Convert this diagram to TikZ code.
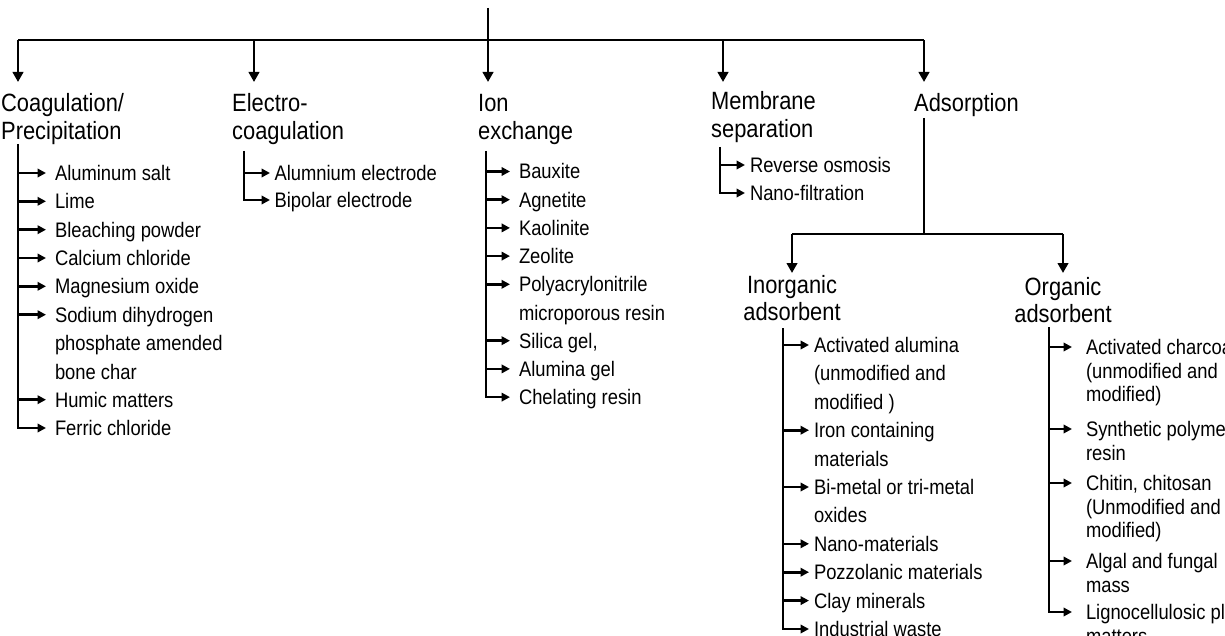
\documentclass[tikz,border=0pt]{standalone}
\usepackage{fontspec}
\setmainfont{Liberation Sans}[FakeStretch=0.875]
\usetikzlibrary{arrows.meta}
\newcommand\hfnt{\fontsize{25pt}{27.5pt}\selectfont}
\newcommand\ifnt{\fontsize{21pt}{28.4pt}\selectfont}
\newcommand\ofnt{\fontsize{21pt}{23.5pt}\selectfont}
\newcommand\mlines[1]{\begin{tabular}[t]{@{}l@{}}#1\end{tabular}}
\newcommand\mcent[1]{\begin{tabular}[t]{@{}c@{}}#1\end{tabular}}
\begin{document}
\begin{tikzpicture}[x=1pt,y=-1pt,
  ln/.style={line width=2.6pt},
  big/.style={ln,-{Triangle[length=10pt,width=10.5pt]}},
  sm/.style={ln,-{Triangle[length=8.5pt,width=8.5pt]}},
  head/.style={font=\hfnt,inner sep=0pt,anchor=base west},
  subhead/.style={font=\hfnt,inner sep=0pt,anchor=base},
  item/.style={font=\ifnt,inner sep=0pt,text height=15pt,text depth=0pt,anchor=west},
  oitem/.style={item,font=\ofnt}]
\useasboundingbox (0,0) rectangle (1225,636);
\clip (0,0) rectangle (1225,636);

% ---------- main bar ----------
\coordinate (root) at (488,8);
\coordinate (barL) at (18,40);
\coordinate (barR) at (924,40);
\draw[ln] (root) -- (root |- barL);
\draw[ln] (barL) -- (barR);

% drop tips
\coordinate (dC) at (18,82);
\coordinate (dE) at (254,82);
\coordinate (dI) at (488,82);
\coordinate (dM) at (723,82);
\coordinate (dA) at (924,82);
\foreach \d in {dC,dE,dI,dM,dA} \draw[big] (\d |- barL) -- (\d);

% ---------- headings ----------
\node[head] (coag) at (1,112) {\mlines{Coagulation/\\Precipitation}};
\node[head] (elec) at (232,112) {\mlines{Electro-\\coagulation}};
\node[head] (ion)  at (478,112) {\mlines{Ion\\exchange}};
\node[head] (mem)  at (711,110) {\mlines{Membrane\\separation}};
\node[head] (ads)  at (914,112) {Adsorption};

% ---------- Coagulation list ----------
\coordinate (cb) at (18,144);
\begin{scope}[every node/.append style={outer xsep=9pt}]
\node[item] (c1) at (46,173)   {Aluminum salt};
\node[item] (c2) at (46,201.3) {Lime};
\node[item] (c3) at (46,229.7) {Bleaching powder};
\node[item] (c4) at (46,258)   {Calcium chloride};
\node[item] (c5) at (46,286.3) {Magnesium oxide};
\node[item] (c6) at (46,314.7) {\mlines{Sodium dihydrogen\\phosphate amended\\bone char}};
\node[item] (c7) at (46,399.7) {Humic matters};
\node[item] (c8) at (46,428)   {Ferric chloride};
\end{scope}
\foreach \n in {c1,c2,c3,c4,c5,c6,c7} \draw[sm] (cb |- \n.west) -- (\n.west);
\draw[sm] (cb) |- (c8.west);

% ---------- Electro-coagulation list ----------
\coordinate (eb) at (244,151);
\begin{scope}[every node/.append style={outer xsep=4.5pt}]
\node[item] (e1) at (270,173) {Alumnium electrode};
\node[item] (e2) at (270,200) {Bipolar electrode};
\end{scope}
\draw[sm] (eb |- e1.west) -- (e1.west);
\draw[sm] (eb) |- (e2.west);

% ---------- Ion exchange list ----------
\coordinate (ib) at (486,151);
\begin{scope}[every node/.append style={outer xsep=9pt}]
\node[item] (i1) at (510,171.5) {Bauxite};
\node[item] (i2) at (510,199.7) {Agnetite};
\node[item] (i3) at (510,227.9) {Kaolinite};
\node[item] (i4) at (510,256.1) {Zeolite};
\node[item] (i5) at (510,284.3) {\mlines{Polyacrylonitrile\\microporous resin}};
\node[item] (i6) at (510,340.7) {Silica gel,};
\node[item] (i7) at (510,368.9) {Alumina gel};
\node[item] (i8) at (510,397.1) {Chelating resin};
\end{scope}
\foreach \n in {i1,i2,i3,i4,i5,i6,i7} \draw[sm] (ib |- \n.west) -- (\n.west);
\draw[sm] (ib) |- (i8.west);

% ---------- Membrane list ----------
\coordinate (mb) at (720,147);
\begin{scope}[every node/.append style={outer xsep=5pt}]
\node[item] (m1) at (745,165) {Reverse osmosis};
\node[item] (m2) at (745,193) {Nano-filtration};
\end{scope}
\draw[sm] (mb |- m1.west) -- (m1.west);
\draw[sm] (mb) |- (m2.west);

% ---------- Adsorption split ----------
\coordinate (adsTop) at (924,118);
\coordinate (adsJ) at (924,234);
\coordinate (jL) at (792,234);
\coordinate (jR) at (1063,234);
\coordinate (dIn) at (792,273);
\coordinate (dOr) at (1063,273);
\draw[ln] (adsTop) -- (adsJ);
\draw[ln] (jL) -- (jR);
\draw[big] (jL) -- (dIn);
\draw[big] (jR) -- (dOr);

\node[subhead] (inorg) at (792,293) {\mcent{Inorganic\\adsorbent}};
\node[subhead] (org)   at (1063,295) {\mcent{Organic\\adsorbent}};

% ---------- Inorganic list ----------
\coordinate (nb) at (783,328);
\begin{scope}[every node/.append style={outer xsep=5pt}]
\node[item] (n1) at (809,345)   {\mlines{Activated alumina\\(unmodified and\\modified )}};
\node[item] (n2) at (809,430.2) {\mlines{Iron containing\\materials}};
\node[item] (n3) at (809,487)   {\mlines{Bi-metal or tri-metal\\oxides}};
\node[item] (n4) at (809,543.8) {Nano-materials};
\node[item] (n5) at (809,572.2) {Pozzolanic materials};
\node[item] (n6) at (809,600.6) {Clay minerals};
\node[item] (n7) at (809,629)   {Industrial waste};
\end{scope}
\foreach \n in {n1,n2,n3,n4,n5,n6} \draw[sm] (nb |- \n.west) -- (\n.west);
\draw[sm] (nb) |- (n7.west);

% ---------- Organic list ----------
\coordinate (ob) at (1049,327);
\begin{scope}[every node/.append style={outer xsep=14pt}]
\node[oitem] (o1) at (1072,347) {\mlines{Activated charcoal\\(unmodified and\\modified)}};
\node[oitem] (o2) at (1072,429) {\mlines{Synthetic polymer\\resin}};
\node[oitem] (o3) at (1072,483) {\mlines{Chitin, chitosan\\(Unmodified and\\modified)}};
\node[oitem] (o4) at (1072,561) {\mlines{Algal and fungal\\mass}};
\node[oitem] (o5) at (1072,612) {\mlines{Lignocellulosic plant\\matters}};
\end{scope}
\foreach \n in {o1,o2,o3,o4} \draw[sm] (ob |- \n.west) -- (\n.west);
\draw[sm] (ob) |- (o5.west);
\end{tikzpicture}
\end{document}
